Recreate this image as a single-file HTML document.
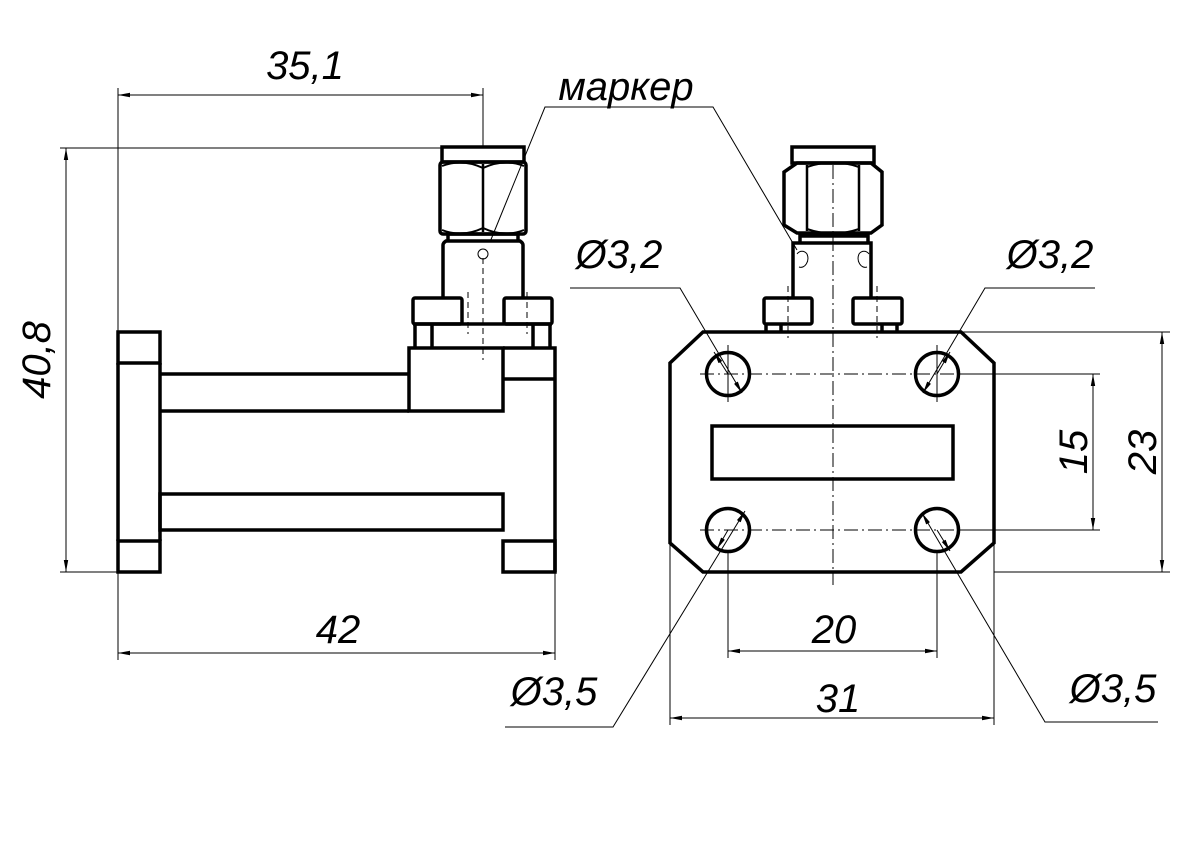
<!DOCTYPE html>
<html><head><meta charset="utf-8"><style>
html,body{margin:0;padding:0;background:#fff;}
svg{display:block;}
text{font-family:"Liberation Sans",sans-serif;font-style:italic;font-size:40px;fill:#000;}
.k{stroke:#000;stroke-width:3.5;fill:none;stroke-linejoin:miter;}
.t{stroke:#000;stroke-width:1;fill:none;}
.c{stroke:#000;stroke-width:1;fill:none;stroke-dasharray:14,4,2,4;}
.d{stroke:#000;stroke-width:1;fill:none;stroke-dasharray:6,4;}
</style></head><body>
<svg width="1203" height="859" viewBox="0 0 1203 859" xmlns="http://www.w3.org/2000/svg">
<defs>
<marker id="a" viewBox="0 0 12 6" refX="12" refY="3" markerWidth="12" markerHeight="6" orient="auto-start-reverse" markerUnits="userSpaceOnUse"><path d="M0,0.8 L12,3 L0,5.2z" fill="#000"/></marker>
</defs>

<!-- ===== LEFT VIEW ===== -->
<g class="k">
<rect x="118" y="332" width="42" height="31"/>
<line x1="118" y1="363" x2="118" y2="541"/>
<rect x="118" y="541" width="42" height="31"/>
<path d="M160 374 H409 M160 411 H409"/>
<line x1="160" y1="363" x2="160" y2="541"/>
<rect x="409" y="348" width="94" height="63"/>
<path d="M503 348 H555 V572 M503 379 H555"/>
<rect x="503" y="541" width="52" height="31"/>
<rect x="160" y="494" width="343" height="36"/>
<!-- connector -->
<path d="M415 348 V324 M432 348 V324 M533 348 V324 M550 348 V324"/>
<line x1="413" y1="324" x2="552" y2="324"/>
<rect x="413" y="298" width="49" height="26" rx="2"/>
<rect x="504" y="298" width="48" height="26" rx="2"/>
<path d="M443 298 V245 Q443 243 446 241 H520 Q523 243 523 245 V298"/>
<path d="M448 241 V234 H518 V241"/>
<rect x="440" y="162" width="86" height="72" rx="3"/>
<rect x="442" y="147" width="82" height="15"/>
<path d="M442 166 Q462 158 483 168 Q504 158 524 166" stroke-width="2"/>
<path d="M442 230 Q462 238 483 228 Q504 238 524 230" stroke-width="2"/>
<line x1="483" y1="164" x2="483" y2="232" stroke-width="2.5"/>
</g>
<circle cx="483" cy="254" r="5" class="t" stroke-width="1.5"/>
<line x1="483" y1="258" x2="483" y2="360" class="d"/>
<line x1="468" y1="292" x2="468" y2="334" class="d"/>
<line x1="527" y1="292" x2="527" y2="334" class="d"/>

<!-- ===== RIGHT VIEW ===== -->
<g class="k">
<path d="M703 332 H961 L994 363 V543 L961 572 H703 L670 543 V363 Z"/>
<circle cx="728" cy="374" r="21.5"/>
<circle cx="937" cy="374" r="21.5"/>
<circle cx="728" cy="530" r="21.5"/>
<circle cx="937" cy="530" r="21.5"/>
<rect x="712" y="426" width="241" height="53"/>
<!-- connector -->
<path d="M766 332 V324 M781 332 V324 M882 332 V324 M897 332 V324"/>
<rect x="764" y="298" width="48" height="26" rx="2"/>
<rect x="853" y="298" width="49" height="26" rx="2"/>
<path d="M793 298 V243 H871 V298"/>
<path d="M800 243 V236 H868 V243"/>
<path d="M797 163 H871 L882 172 V225 L871 233 H797 L784 225 V172 Z"/>
<rect x="792" y="147" width="82" height="16"/>
<path d="M807 165 V231 M859 165 V231" stroke-width="2.5"/>
<path d="M807 167 Q833 158 859 167 M807 229 Q833 238 859 229" stroke-width="2"/>
</g>
<path d="M797 254 a7 9 0 0 1 10 0 a7 9 0 0 1 -8 13 M869 254 a7 9 0 0 0 -10 0 a7 9 0 0 0 8 13" class="t" stroke-width="1.5"/>
<!-- centerlines -->
<line x1="833" y1="165" x2="833" y2="585" class="c"/>
<line x1="700" y1="374" x2="1000" y2="374" class="c"/>
<line x1="700" y1="530" x2="1000" y2="530" class="c"/>
<line x1="728" y1="345" x2="728" y2="402" class="t"/>
<line x1="937" y1="345" x2="937" y2="402" class="t"/>
<line x1="788" y1="286" x2="788" y2="338" class="d"/>
<line x1="877" y1="286" x2="877" y2="338" class="d"/>

<!-- ===== DIMENSIONS ===== -->
<g class="t">
<!-- 35,1 -->
<line x1="118" y1="88" x2="118" y2="332"/>
<line x1="483" y1="88" x2="483" y2="147"/>
<line x1="118" y1="95" x2="483" y2="95" marker-start="url(#a)" marker-end="url(#a)"/>
<!-- 40,8 -->
<line x1="60" y1="148" x2="442" y2="148"/>
<line x1="60" y1="572" x2="118" y2="572"/>
<line x1="66" y1="148" x2="66" y2="572" marker-start="url(#a)" marker-end="url(#a)"/>
<!-- 42 -->
<line x1="118" y1="572" x2="118" y2="660"/>
<line x1="555" y1="572" x2="555" y2="660"/>
<line x1="118" y1="653" x2="555" y2="653" marker-start="url(#a)" marker-end="url(#a)"/>
<!-- 20 -->
<line x1="728" y1="552" x2="728" y2="658"/>
<line x1="937" y1="552" x2="937" y2="658"/>
<line x1="728" y1="651" x2="937" y2="651" marker-start="url(#a)" marker-end="url(#a)"/>
<!-- 31 -->
<line x1="670" y1="543" x2="670" y2="725"/>
<line x1="994" y1="543" x2="994" y2="725"/>
<line x1="670" y1="718" x2="994" y2="718" marker-start="url(#a)" marker-end="url(#a)"/>
<!-- 15 -->
<line x1="959" y1="374" x2="1100" y2="374"/>
<line x1="959" y1="530" x2="1100" y2="530"/>
<line x1="1093" y1="374" x2="1093" y2="530" marker-start="url(#a)" marker-end="url(#a)"/>
<!-- 23 -->
<line x1="961" y1="332" x2="1170" y2="332"/>
<line x1="994" y1="572" x2="1170" y2="572"/>
<line x1="1162" y1="332" x2="1162" y2="572" marker-start="url(#a)" marker-end="url(#a)"/>
<!-- leaders -->
<polyline points="490,242 545,107 713,107 797,250"/>
<polyline points="570,288 680,288 742,393" marker-end="url(#a)"/>
<line x1="728" y1="374" x2="714" y2="352" marker-end="url(#a)"/>
<polyline points="1095,288 985,288 923,393" marker-end="url(#a)"/>
<line x1="937" y1="374" x2="950" y2="352" marker-end="url(#a)"/>
<polyline points="505,727 613,727 745,511" marker-end="url(#a)"/>
<line x1="728" y1="530" x2="717" y2="549" marker-end="url(#a)"/>
<polyline points="1158,722 1045,722 922,513" marker-end="url(#a)"/>
<line x1="937" y1="530" x2="950" y2="551" marker-end="url(#a)"/>
</g>

<!-- ===== TEXT ===== -->
<text x="305" y="79" text-anchor="middle">35,1</text>
<text transform="translate(50,360) rotate(-90)" text-anchor="middle">40,8</text>
<text x="338" y="643" text-anchor="middle">42</text>
<text x="834" y="643" text-anchor="middle">20</text>
<text x="838" y="712" text-anchor="middle">31</text>
<text transform="translate(1087,452) rotate(-90)" text-anchor="middle">15</text>
<text transform="translate(1156,452) rotate(-90)" text-anchor="middle">23</text>
<text x="626" y="100" text-anchor="middle" font-size="38">маркер</text>
<text x="619" y="268" text-anchor="middle">Ø3,2</text>
<text x="1050" y="268" text-anchor="middle">Ø3,2</text>
<text x="554" y="705" text-anchor="middle">Ø3,5</text>
<text x="1113" y="702" text-anchor="middle">Ø3,5</text>
</svg>
</body></html>
